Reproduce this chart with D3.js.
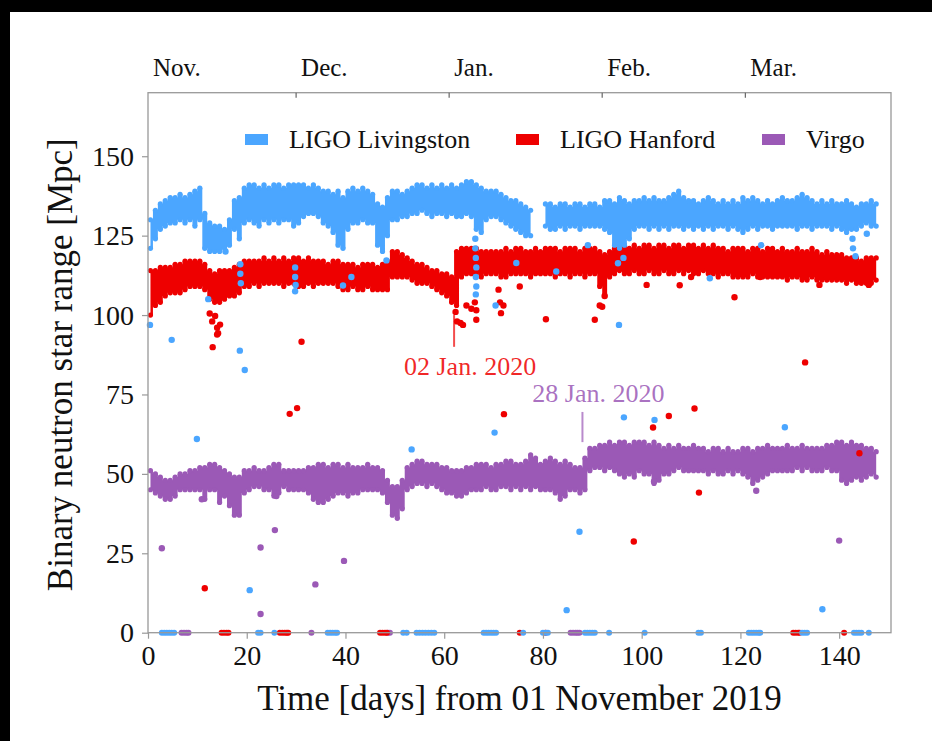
<!DOCTYPE html>
<html>
<head>
<meta charset="utf-8">
<script src="https://cdn.jsdelivr.net/npm/d3@7"></script>
<style>
  body { margin: 0; background: #fff; }
  svg text { font-family: "Liberation Serif", "DejaVu Serif", serif; }
</style>
</head>
<body>
<div id="vis"></div>
<script>
// daily range of each detector (upper / lower edge of the band, Mpc), day 0 = 01 Nov 2019
const l1Hi = [130,133,135,136,137,137,138,137,138,139, 140,132,129,128,128,127,130,136,137,140,
  141,141,140,141,140,141,141,140,141,141, 141,141,140,141,140,139,139,138,139,137,
  139,140,139,140,139,138,135,134,137,139, 139,138,139,140,141,141,140,141,140,141,
  140,141,140,141,142,142,141,140,139,139, 139,138,137,136,136,135,134,133,null,null,
  135,135,134,135,135,134,135,135,134,135, 135,134,136,136,135,137,136,135,136,136,
  137,136,137,136,136,137,138,139,137,136, 136,135,136,137,136,135,136,135,136,135,
  137,136,137,136,135,136,135,136,137,136, 136,137,138,137,136,135,136,135,136,135,
  135,136,135,134,135,135,136,135];
const l1Lo = [121,124,127,128,129,129,130,129,130,128, 130,121,120,120,120,121,122,127,124,129,
  130,129,128,130,129,130,129,130,130,128, 129,131,132,132,131,129,128,126,122,121,
  127,129,129,130,129,129,122,120,125,130, 130,131,131,132,132,133,132,131,132,132,
  131,132,131,131,132,131,127,126,130,131, 131,130,129,128,127,126,125,125,null,null,
  128,127,127,128,127,128,128,127,128,128, 128,128,127,126,122,121,122,124,127,128,
  128,127,128,127,128,127,128,128,127,128, 127,128,127,128,127,128,128,127,128,127,
  126,127,128,127,128,128,127,128,128,128, 128,127,128,128,127,128,128,128,127,128,
  127,126,127,127,128,129,128,128];

const h1Hi = [114,114,115,115,115,116,116,117,117,117, 117,116,114,113,114,114,114,115,116,117,
  117,117,117,118,117,118,117,118,117,118, 118,117,118,117,117,117,116,117,117,116,
  116,116,115,116,116,116,115,116,117,120, 120,119,118,117,116,116,115,114,114,113,
  113,112,120,121,121,121,121,120,120,120, 120,120,121,120,121,121,120,120,121,120,
  121,121,121,120,121,121,121,120,121,121, 121,120,119,120,121,122,122,121,122,121,
  122,122,121,122,122,121,122,122,121,122, 122,121,122,121,122,121,121,120,121,121,
  121,120,121,121,120,121,121,120,121,120, 120,121,120,120,121,120,119,120,119,119,
  119,118,118,118,117,118,118,118];
const h1Lo = [100,103,104,106,107,107,107,108,109,109, 109,108,105,104,104,105,106,106,107,109,
  109,110,109,110,110,110,110,109,110,110, 109,109,110,109,110,110,110,110,109,108,
  108,109,108,108,109,108,108,108,108,112, 112,112,112,111,110,110,110,109,108,107,
  106,104,103,112,113,113,113,112,113,113, 113,112,112,113,113,113,113,112,113,113,
  113,113,112,113,113,112,113,113,112,113, 113,109,106,112,113,114,113,113,114,113,
  113,114,113,113,114,113,113,114,113,114, 113,113,114,113,113,112,113,113,112,112,
  112,112,113,112,112,112,112,112,112,111, 112,112,111,111,112,111,111,111,111,111,
  111,110,111,110,110,110,110,111];

const v1Hi = [51,50,49,48,48,49,50,50,51,51, 52,52,53,53,52,51,50,49,49,51,
  51,52,51,51,52,53,53,51,51,51, 51,51,52,52,53,53,52,53,53,52,
  53,52,52,52,53,52,52,51,48,46, 46,48,52,53,54,54,53,53,53,52,
  52,51,51,51,52,52,53,53,53,52, 53,53,54,54,53,53,54,56,55,53,
  54,55,54,53,54,53,52,52,55,58, 58,59,59,60,59,60,60,59,60,60,
  60,59,60,59,58,59,58,59,58,58, 59,58,58,57,58,58,57,58,57,57,
  58,58,57,58,58,59,58,58,58,59, 58,58,59,58,58,58,58,59,59,60,
  60,59,60,59,59,58,58,57];
const v1Lo = [45,44,43,42,42,43,45,45,45,45, 45,42,45,45,41,43,40,37,37,44,
  45,46,46,45,45,43,44,46,45,45, 45,45,44,42,41,41,42,43,44,44,
  43,44,44,45,45,45,45,44,41,37, 36,39,45,46,47,47,46,47,46,45,
  44,44,43,43,44,45,45,45,46,45, 45,46,46,45,46,45,46,45,46,45,
  45,45,44,42,43,45,45,44,45,51, 52,52,51,52,51,50,49,50,49,51,
  50,50,47,48,50,50,51,52,51,51, 51,51,51,50,51,50,50,51,50,51,
  50,49,47,48,49,50,51,51,51,51, 51,52,51,52,51,51,51,52,51,51,
  48,47,48,49,48,49,50,49];

// isolated points [day, Mpc]
const l1Out = [[0.4,96.9],[4.8,92.2],[9.9,61],[12.2,105],[15.7,120],[18.6,88.8],[19.6,82.7],
  [18.7,116],[18.7,113],[18.8,110],[20.6,13.4],[29.8,115],[29.8,112],[29.9,109.5],[29.8,107.5],
  [39.5,109.3],[41.2,112],[48.3,117.2],[53.4,57.7],[66.3,124],[66.3,121],[66.4,118],[66.5,115],
  [66.4,112],[66.5,109],[66.4,106.5],[70.2,63],[70.4,103],[74.6,116.4],[82.7,113.7],[84.8,7.1],
  [87.4,31.8],[89.1,122],[95.2,116.3],[96.3,118],[95.4,96.9],[96.4,67.8],[102.6,67],[113.8,111.6],
  [124.2,122],[129,64.7],[136.6,7.4],[142.7,124],[142.8,121],[143.3,118.5],[145.6,125.6]];
const h1Out = [[12.5,100.5],[13,98],[13.6,99.7],[14,96],[14.6,97],[14,93.9],[13.1,89.9],[14.2,94.3],
  [11.5,14],[28.7,68.9],[30.2,70.7],[31.1,91.6],[62.3,101],[62.6,98],[63.3,97.5],[63.8,96.9],
  [64.5,103],[65.5,102],[66.5,101.5],[66.2,104],[66.5,98.5],[71,108],[71.3,104],[71.5,100.6],
  [72,103],[72.1,68.8],[75.3,109],[80.6,98.7],[90.5,98.5],[91.5,103],[92,102.6],[92.5,106],
  [98.4,28.7],[101,109.5],[102.3,64.6],[105.5,68.2],[107.7,109.4],[110,112],[110.7,70.6],
  [111.6,44.1],[118.8,105.6],[124,112],[133.1,85.1],[136,109.5],[144.1,56.5],[146,109.5]];
const v1Out = [[2.8,26.6],[10.9,42],[22.8,26.8],[25.7,32.3],[22.8,5.9],[33.9,15.2],[39.7,22.6],
  [26,43],[102.5,47.6],[123.2,44.7],[140,29]];

// days where the range dropped to zero
const l1Zero = [2.8,3.3,3.8,4.3,4.8,5.3,22.3,22.8,25.6,36.4,36.9,37.4,37.9,38.3,51.7,52.4,54.4,55,
  55.6,56.2,56.8,57.4,58,68,68.5,69,69.5,70,70.5,76,80,80.6,81,88.5,89,89.5,90,90.5,93.4,100.6,
  111.5,112,121.7,122.2,122.7,123.2,123.7,124,132.5,133,133.5,143,143.5,144,144.5,146];
const h1Zero = [14.9,15.4,15.9,16.3,26.7,27.2,27.7,28.1,28.4,47,47.5,48,48.4,75.3,80.5,
  130.7,131.2,131.7,132,141];
const v1Zero = [6.8,7.3,7.8,8.2,33.1,48.6,49,85.6,86.1,86.6,87,87.4];

const detectors = ["LIGO Livingston", "LIGO Hanford", "Virgo"];
const colors = ["#4ba6ff", "#ee0000", "#9b59b6"];
const months = ["Nov.", "Dec.", "Jan.", "Feb.", "Mar."];
const monthDays = [0, 30, 61, 92, 121];
const xTicks = [0, 20, 40, 60, 80, 100, 120, 140];
const yTicks = [0, 25, 50, 75, 100, 125, 150];
const notes = [
  { text: "02 Jan. 2020", day: 62, top: 100, bottom: 90, label: 81, color: "#ee0000" },
  { text: "28 Jan. 2020", day: 88, top: 69.5, bottom: 60, label: 72.5, color: "#9b59b6" }
];

const W = 932, H = 741;
const x = d3.scaleLinear().domain([0, 150.5]).range([148, 891]);
const y = d3.scaleLinear().domain([0, 170]).range([632.7, 92.7]);

const svg = d3.select("#vis").append("svg")
  .attr("width", W).attr("height", H);

svg.append("rect").attr("width", W).attr("height", H).attr("fill", "#fff");
// black edges of the original picture
svg.append("rect").attr("width", W).attr("height", 12).attr("fill", "#000");
svg.append("rect").attr("width", 10).attr("height", H).attr("fill", "#000");

const series = [
  { hi: v1Hi, lo: v1Lo, out: v1Out, zero: v1Zero, c: colors[2] },
  { hi: h1Hi, lo: h1Lo, out: h1Out, zero: h1Zero, c: colors[1] },
  { hi: l1Hi, lo: l1Lo, out: l1Out, zero: l1Zero, c: colors[0] }
];

const bandArea = d3.area()
  .defined(b => b.hi != null)
  .curve(d3.curveStep)
  .x(b => x(b.d + 0.5))
  .y0(b => y(b.lo))
  .y1(b => y(b.hi));

const marks = svg.append("g");
series.forEach(s => {
  const g = marks.append("g").attr("fill", s.c);
  const days = s.hi.map((h, i) => ({ d: i, hi: h, lo: s.lo[i] }));
  const band = days.filter(b => b.hi != null);
  g.append("path").attr("d", bandArea(days));
  // round marker ends at the daily extremes
  g.selectAll("circle.end")
    .data(band.flatMap(b => [[b.d + 0.5, b.hi], [b.d + 0.5, b.lo]]))
    .join("circle")
    .attr("class", "end")
    .attr("cx", p => x(p[0]))
    .attr("cy", p => y(p[1]))
    .attr("r", 2.6);
  g.selectAll("circle.out")
    .data(s.out)
    .join("circle")
    .attr("class", "out")
    .attr("cx", p => x(p[0]))
    .attr("cy", p => y(p[1]))
    .attr("r", 3.2);
  g.selectAll("circle.zero")
    .data(s.zero)
    .join("circle")
    .attr("class", "zero")
    .attr("cx", d => x(d))
    .attr("cy", y(0))
    .attr("r", 3);
});

// frame
const frame = svg.append("g").attr("fill", "none").attr("stroke", "#999").attr("stroke-width", 1.3);
frame.append("rect")
  .attr("x", x(0)).attr("y", y(170))
  .attr("width", x(150.5) - x(0)).attr("height", y(0) - y(170));

const styleAxis = g => {
  g.select(".domain").remove();
  g.selectAll(".tick line").attr("stroke", "#999").attr("stroke-width", 1.2);
  g.selectAll(".tick text").attr("fill", "#111").style("font-size", "28px");
};

svg.append("g")
  .attr("transform", `translate(0,${y(0)})`)
  .call(d3.axisBottom(x).tickValues(xTicks).tickSize(6).tickPadding(6).tickFormat(d3.format("d")))
  .call(styleAxis);

svg.append("g")
  .attr("transform", `translate(${x(0)},0)`)
  .call(d3.axisLeft(y).tickValues(yTicks).tickSize(6).tickPadding(8).tickFormat(d3.format("d")))
  .call(styleAxis);

// month ticks on top, pointing inward
const monthAxis = svg.append("g").attr("transform", `translate(0,${y(170)})`);
monthAxis.selectAll("line")
  .data(monthDays.slice(1))
  .join("line")
  .attr("x1", d => x(d)).attr("x2", d => x(d))
  .attr("y1", 0).attr("y2", 5)
  .attr("stroke", "#666").attr("stroke-width", 1.2);
monthAxis.selectAll("text")
  .data(months)
  .join("text")
  .attr("x", (m, i) => x(monthDays[i]) + 5)
  .attr("y", -17)
  .attr("fill", "#111")
  .style("font-size", "25px")
  .text(m => m);

// legend
const legend = svg.append("g");
const legendX = [245, 516, 762];
detectors.forEach((name, i) => {
  legend.append("rect")
    .attr("x", legendX[i]).attr("y", 134)
    .attr("width", 23).attr("height", 11)
    .attr("fill", colors[i]);
  legend.append("text")
    .attr("x", legendX[i] + 44).attr("y", 148)
    .attr("fill", "#111")
    .style("font-size", "26px")
    .text(name);
});

// date annotations
notes.forEach(n => {
  svg.append("line")
    .attr("x1", x(n.day)).attr("x2", x(n.day))
    .attr("y1", y(n.top)).attr("y2", y(n.bottom))
    .attr("stroke", n.color).attr("stroke-opacity", 0.7).attr("stroke-width", 2);
  svg.append("text")
    .attr("x", x(n.day) + 16).attr("y", y(n.label))
    .attr("text-anchor", "middle")
    .attr("fill", n.color).attr("fill-opacity", 0.85)
    .style("font-size", "26px")
    .text(n.text);
});

// axis titles
svg.append("text")
  .attr("x", (x(0) + x(150.5)) / 2).attr("y", 710)
  .attr("text-anchor", "middle")
  .attr("fill", "#111")
  .style("font-size", "35px")
  .text("Time [days] from 01 November 2019");

svg.append("text")
  .attr("transform", `translate(72,${(y(0) + y(170)) / 2 + 2}) rotate(-90)`)
  .attr("text-anchor", "middle")
  .attr("fill", "#111")
  .style("font-size", "35px")
  .text("Binary neutron star range [Mpc]");
</script>
</body>
</html>
